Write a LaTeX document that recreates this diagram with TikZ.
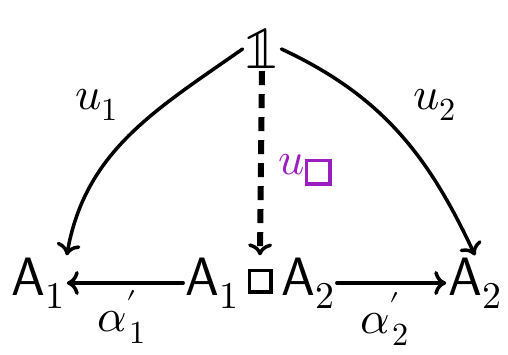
\documentclass[tikz,border=0pt]{standalone}
\usepackage{unicode-math}
\setmathfont{Latin Modern Math}
\usetikzlibrary{arrows.meta}
\definecolor{hpurple}{RGB}{155,30,192}
\newcommand{\hsq}[3]{\raisebox{#3}{\setlength{\fboxsep}{0pt}\setlength{\fboxrule}{#2}\fbox{\rule{0pt}{#1}\rule{#1}{0pt}}}}
\begin{document}
\begin{tikzpicture}[x=1pt,y=1pt,
  lbl/.style={font=\fontsize{54}{60}\selectfont, inner sep=2pt},
  sml/.style={font=\fontsize{46}{52}\selectfont, inner sep=1pt},
  arr/.style={line width=3.5pt, line cap=round, -{To[length=12pt,width=24pt,line width=3.5pt]}},
  dasharr/.style={line width=6pt, dash pattern=on 14pt off 9pt, -{To[length=12pt,width=24pt,line width=3.5pt]}}]
\useasboundingbox (0,0) rectangle (508,355);
\node[lbl, font=\fontsize{62}{66}\selectfont] (one) at (262,306) {$\mathbb{1}$};
\node[lbl] (A1) at (38,72) {$\mathsf{A}_1$};
\node[lbl] (P) at (260,72) {$\mathsf{A}_1\,\hsq{18pt}{3.5pt}{5pt}\,\mathsf{A}_2$};
\node[lbl] (A2) at (475,72) {$\mathsf{A}_2$};
\draw[arr] (P.west) -- (A1.east);
\draw[arr] (P.east) -- (A2.west);
\draw[arr] (one.west) to[out=215,in=80] (A1.north east);
\draw[arr] (one.east) to[out=-25,in=115] (A2.north);
\draw[dasharr] (one.south) -- (P.north);
\node[sml] (u1) at (97,250) {$u_1$};
\node[sml] (u2) at (435,250) {$u_2$};
\node[sml, text=hpurple] (ub) at (305,185) {$u\hsq{20pt}{3.5pt}{-8pt}$};
\node[sml] (a1) at (122,38) {$\alpha^{\prime}_{\hspace{3pt}1}$};
\node[sml] (a2) at (385,36) {$\alpha^{\prime}_{\hspace{3pt}2}$};
\end{tikzpicture}
\end{document}
